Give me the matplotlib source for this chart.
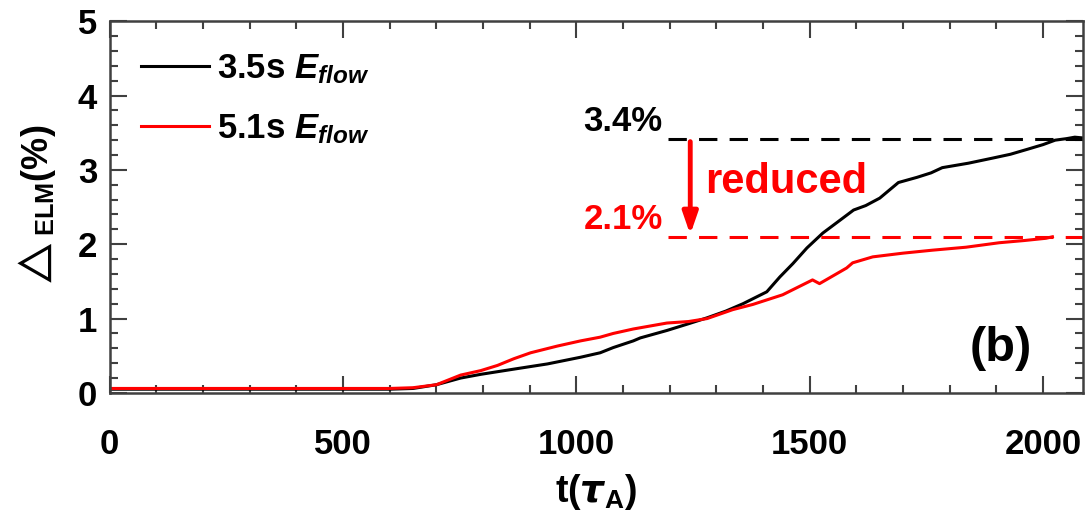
import numpy as np
import matplotlib
matplotlib.use('Agg')
import matplotlib.pyplot as plt
from matplotlib.ticker import MultipleLocator

# 3.5s E_flow (black)
t_black = [0, 100, 200, 300, 400, 500, 600, 650, 700, 752, 795, 866, 938, 1009,
           1051, 1079, 1122, 1137, 1194, 1240, 1280, 1320, 1357, 1408, 1436, 1464,
           1494, 1528, 1560, 1594, 1620, 1650, 1690, 1730, 1760, 1784, 1840, 1893,
           1930, 1968, 2000, 2026, 2050, 2068, 2085]
d_black = [0.05, 0.05, 0.05, 0.05, 0.05, 0.05, 0.05, 0.06, 0.11, 0.20, 0.25, 0.32, 0.39, 0.48,
           0.54, 0.61, 0.70, 0.74, 0.84, 0.93, 1.01, 1.10, 1.20, 1.36, 1.56, 1.74,
           1.95, 2.15, 2.30, 2.46, 2.52, 2.62, 2.83, 2.90, 2.96, 3.03, 3.09, 3.16,
           3.21, 3.28, 3.34, 3.40, 3.42, 3.44, 3.43]

# 5.1s E_flow (red)
t_red = [0, 100, 200, 300, 400, 500, 600, 650, 700, 752, 795, 831, 866, 902, 959,
         1009, 1051, 1079, 1122, 1194, 1240, 1280, 1335, 1378, 1442, 1506, 1521,
         1579, 1592, 1635, 1700, 1763, 1835, 1906, 1960, 2006, 2020]
d_red = [0.06, 0.06, 0.06, 0.06, 0.06, 0.06, 0.06, 0.07, 0.11, 0.24, 0.30, 0.37, 0.46, 0.54, 0.63,
         0.70, 0.75, 0.80, 0.86, 0.94, 0.96, 1.00, 1.12, 1.19, 1.32, 1.52, 1.47,
         1.68, 1.75, 1.83, 1.88, 1.92, 1.96, 2.02, 2.05, 2.08, 2.10]

level_black = 3.42
level_red = 2.10
label_black = '3.4%'
label_red = '2.1%'

plt.rcParams['font.family'] = ['Liberation Sans', 'DejaVu Sans']
plt.rcParams['font.weight'] = 'bold'
plt.rcParams['axes.labelweight'] = 'bold'
plt.rcParams['mathtext.fontset'] = 'custom'
plt.rcParams['mathtext.rm'] = 'Liberation Sans:bold'
plt.rcParams['mathtext.bf'] = 'Liberation Sans:bold'
plt.rcParams['mathtext.it'] = 'Liberation Sans:italic:bold'
plt.rcParams['mathtext.sf'] = 'DejaVu Sans:italic'

fig = plt.figure(figsize=(10.86, 5.17), dpi=100)
ax = fig.add_axes([0.101, 0.240, 0.896, 0.719])

ax.plot(t_black, d_black, color='black', lw=2.2, label='3.5s $E_{flow}$')
ax.plot(t_red, d_red, color='#ff0000', lw=2.2, label='5.1s $E_{flow}$')

ax.plot([1197, 2085], [level_black, level_black], color='black', lw=2.2,
        dashes=(6, 4))
ax.plot([1197, 2085], [level_red, level_red], color='#ff0000', lw=2.2,
        dashes=(6, 4))
ax.text(1185, level_black + 0.01, label_black, ha='right', va='bottom',
        fontsize=25, color='black')
ax.text(1185, level_red + 0.01, label_red, ha='right', va='bottom',
        fontsize=25, color='#ff0000')

ax.annotate('', xy=(1244, 2.13), xytext=(1244, 3.38),
            arrowprops=dict(arrowstyle='-|>,head_width=0.45,head_length=1.3',
                            lw=3.5, color='#ff0000', shrinkA=0, shrinkB=0))
ax.text(1275, 2.84, 'reduced', ha='left', va='center', fontsize=30,
        color='#ff0000')
ax.text(1910, 0.60, '(b)', ha='center', va='center', fontsize=35)

ax.set_xlim(0, 2085)
ax.set_ylim(0, 5)
ax.xaxis.set_major_locator(MultipleLocator(500))
ax.xaxis.set_minor_locator(MultipleLocator(100))
ax.yaxis.set_major_locator(MultipleLocator(1))
ax.yaxis.set_minor_locator(MultipleLocator(0.2))
ax.tick_params(which='both', direction='in', top=True, right=True,
               color='#404040', width=1.5)
ax.tick_params(which='major', length=12, labelsize=25)
ax.tick_params(which='minor', length=6)
ax.tick_params(axis='x', which='major', pad=25)
ax.tick_params(axis='y', which='major', pad=9)
for s in ax.spines.values():
    s.set_color('#404040')
    s.set_linewidth(1.8)

ax.set_xlabel(r't($\mathsf{τ}_{\mathrm{A}}$)', fontsize=27, labelpad=8)
ax.set_ylabel(r'$\triangle_{\mathrm{ELM}}$(%)', fontsize=26, labelpad=14)

leg = ax.legend(loc='upper left', frameon=False, fontsize=25, handlelength=1.95,
                handletextpad=0.25, labelspacing=0.75, borderaxespad=0.5,
                borderpad=0.4)

plt.savefig('out.png', dpi=100)
